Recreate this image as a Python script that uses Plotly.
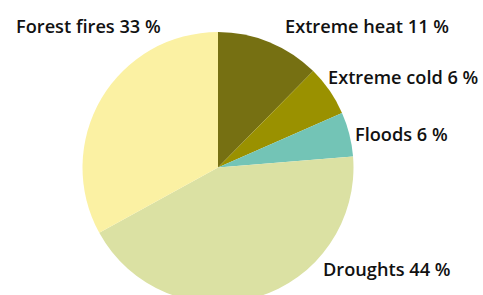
import plotly.graph_objects as go

categories = ["Extreme heat", "Extreme cold", "Floods", "Droughts", "Forest fires"]
values = [12.4, 6.0, 5.3, 43.3, 33.0]
pct_labels = ["11 %", "6 %", "6 %", "44 %", "33 %"]
colors = ["#767012", "#9a9100", "#73c4b6", "#dbe1a3", "#fbf1a3"]

W, H = 483, 303
cx, cy, r = 218, 167.5, 135.5

fig = go.Figure(go.Pie(
    labels=categories, values=values, sort=False, direction="clockwise", rotation=0,
    marker=dict(colors=colors, line=dict(width=0)), textinfo="none", hoverinfo="label+percent",
    domain=dict(x=[(cx - r) / W, (cx + r) / W], y=[(H - cy - r) / H, (H - cy + r) / H]),
    showlegend=False,
))

# label placement (px from left/top), anchor side
label_pos = [(283, 26, "left"), (326, 77, "left"), (353, 134, "left"), (321, 269, "left"), (163, 26, "right")]
for cat, pl, (lx, ly, anc) in zip(categories, pct_labels, label_pos):
    fig.add_annotation(x=lx / W, y=1 - ly / H, xref="paper", yref="paper", text=f"{cat} {pl}",
                       showarrow=False, xanchor=anc, yanchor="middle",
                       font=dict(family="Open Sans", size=18.2, color="#111111", weight=600))

fig.update_layout(width=W, height=H, margin=dict(l=0, r=0, t=0, b=0),
                  paper_bgcolor="white", plot_bgcolor="white")
fig.write_html("out.html", config={"displayModeBar": False},
               post_script="document.body.style.margin='0';document.body.style.overflow='hidden';")
